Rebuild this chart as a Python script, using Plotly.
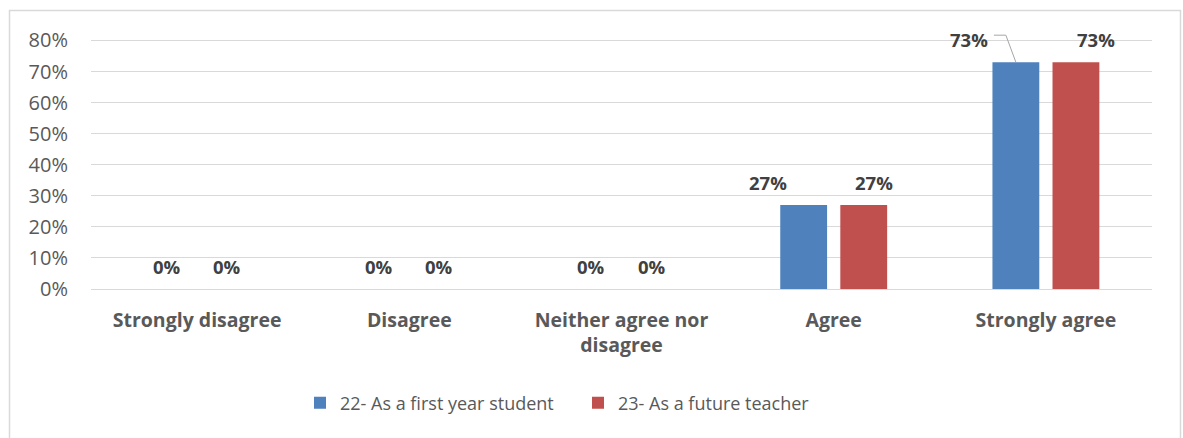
import plotly.graph_objects as go

categories = ["Strongly disagree", "Disagree", "Neither agree nor<br>disagree", "Agree", "Strongly agree"]
series_names = ["22- As a first year student", "23- As a future teacher"]
first_year = [0.00, 0.00, 0.00, 0.27, 0.73]
future_teacher = [0.00, 0.00, 0.00, 0.27, 0.73]
y_ticks = [0, 0.1, 0.2, 0.3, 0.4, 0.5, 0.6, 0.7, 0.8]

colors = ["#4f81bd", "#c0504d"]
# horizontal label nudges (pixels) relative to bar centre, per series, per category
label_nudge = [[0, 0, 0, -36, -47], [0, 0, 0, 10, 20]]
bar_offset = 0.1415  # bar centre offset inside group (category units)

W, H = 1183, 438
ML, MR, MT, MB = 91, 31, 28, 149
pw = W - ML - MR
ph = H - MT - MB

FONT = "Open Sans"
fig = go.Figure()
xs = list(range(len(categories)))
for i, (name, vals) in enumerate(zip(series_names, [first_year, future_teacher])):
    fig.add_trace(go.Bar(x=xs, y=vals, name=name, marker=dict(color=colors[i], line=dict(width=0)),
                         hoverinfo="skip"))
    sign = -1 if i == 0 else 1
    for j, v in enumerate(vals):
        fig.add_annotation(x=j + sign * bar_offset, y=v, xref="x", yref="y",
                           text=f"{round(v*100)}%", showarrow=False,
                           xshift=label_nudge[i][j], yshift=23,
                           font=dict(family=FONT, size=18.5, color="#404040", weight="bold"))

# leader line for the displaced 73% label
fig.add_shape(type="path", xref="x", yref="y", xsizemode="pixel", ysizemode="pixel",
              xanchor=4 - bar_offset, yanchor=first_year[4],
              path="M -22,27 L -10,27 L 0,0", line=dict(color="#a6a6a6", width=1))

# outer chart border (open at the bottom edge of the picture)
fig.add_shape(type="rect", xref="paper", yref="paper",
              x0=(9.5 - ML) / pw, x1=(1180.5 - ML) / pw,
              y0=-(MB + 10) / ph, y1=(H - 10.5 - MB) / ph,
              line=dict(color="#d9d9d9", width=1.5), fillcolor="rgba(0,0,0,0)", layer="below")

fig.update_layout(
    width=W, height=H,
    margin=dict(l=ML, r=MR, t=MT, b=MB, autoexpand=False),
    paper_bgcolor="white", plot_bgcolor="white",
    barmode="group", bargap=0.434, bargroupgap=0.22,
    showlegend=True,
    legend=dict(orientation="h", x=(300 - ML) / pw, xanchor="left",
                y=(H - MB - 403) / ph, yanchor="middle", bgcolor="rgba(0,0,0,0)",
                font=dict(family=FONT, size=18, color="#595959"),
                traceorder="normal", entrywidth=233, entrywidthmode="pixels"),
    xaxis=dict(range=[-0.5, 4.5], tickvals=xs, ticktext=categories, showgrid=False,
               zeroline=False, showline=False, ticks="", ticklabelstandoff=17,
               tickfont=dict(family=FONT, size=19.5, color="#595959", weight="bold")),
    yaxis=dict(range=[0, 0.84], tickvals=y_ticks, tickformat=".0%", showgrid=True,
               gridcolor="#d9d9d9", gridwidth=1, zeroline=True, zerolinecolor="#d9d9d9",
               zerolinewidth=1, ticks="", ticklabelstandoff=22,
               tickfont=dict(family=FONT, size=20, color="#595959")),
)

fig.write_html("out.html")
